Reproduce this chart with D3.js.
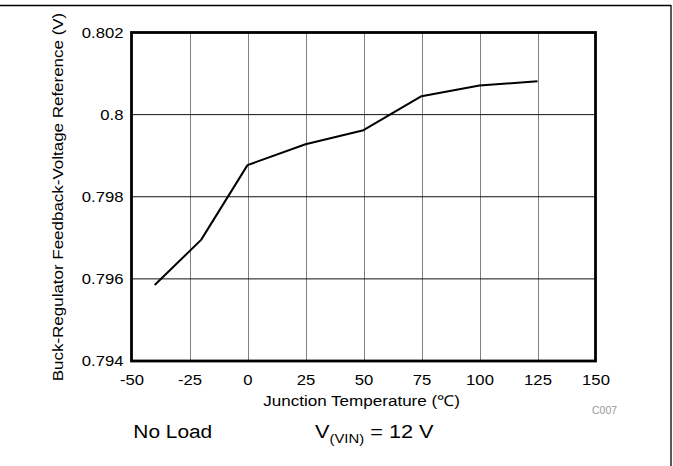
<!DOCTYPE html>
<html>
<head>
<meta charset="utf-8">
<script src="https://cdn.jsdelivr.net/npm/d3@7"></script>
<style>
  html, body { margin: 0; padding: 0; background: #fff; }
  svg { display: block; }
  text { font-family: "Liberation Sans", Arial, Helvetica, sans-serif; fill: #000; }
</style>
</head>
<body>
<svg id="chart" width="673" height="466"></svg>
<script>
// ---- data ----
const temperatures = [-40, -20, 0, 25, 50, 75, 100, 125];
const vref = [0.79585, 0.79695, 0.79877, 0.79928, 0.79962, 0.80045, 0.80071, 0.80081];
const xTicks = [-50, -25, 0, 25, 50, 75, 100, 125, 150];
const xTickLabels = ["-50", "-25", "0", "25", "50", "75", "100", "125", "150"];
const yTicks = [0.794, 0.796, 0.798, 0.800, 0.802];
const yTickLabels = ["0.794", "0.796", "0.798", "0.8", "0.802"];
const xTitle = "Junction Temperature (\u2103)";
const yTitle = "Buck-Regulator Feedback-Voltage Reference (V)";
const note1 = "No Load";
const chartId = "C007";

const svg = d3.select("#chart");
const W = 673, H = 466;
const plot = { left: 131.5, right: 595.5, top: 32.5, bottom: 361 };
const STRETCH = 1.15;

const x = d3.scaleLinear().domain([-50, 150]).range([plot.left, plot.right]);
const y = d3.scaleLinear().domain([0.794, 0.802]).range([plot.bottom, plot.top]);

// outer frame lines
svg.append("line").attr("x1", 0).attr("x2", 671).attr("y1", 5.5).attr("y2", 5.5)
  .attr("stroke", "#000").attr("stroke-width", 1.3);
svg.append("line").attr("x1", 671).attr("x2", 671).attr("y1", 5).attr("y2", H)
  .attr("stroke", "#000").attr("stroke-width", 1.3);

// gridlines
const grid = svg.append("g");
grid.selectAll("line.v").data(xTicks.slice(1, -1)).join("line")
  .attr("x1", d => Math.round(x(d)) + 0.5).attr("x2", d => Math.round(x(d)) + 0.5)
  .attr("y1", plot.top).attr("y2", plot.bottom)
  .attr("stroke", "#808080").attr("stroke-width", 1);
grid.selectAll("line.h").data(yTicks.slice(1, -1)).join("line")
  .attr("x1", plot.left).attr("x2", plot.right)
  .attr("y1", d => y(d)).attr("y2", d => y(d))
  .attr("stroke", "#111").attr("stroke-width", 1);

// axes (labels only)
const xAxis = d3.axisBottom(x).tickValues(xTicks).tickFormat((d, i) => xTickLabels[i]).tickSize(0).tickPadding(14);
const gx = svg.append("g").attr("transform", `translate(0,${plot.bottom})`).call(xAxis);
gx.select(".domain").remove();
gx.selectAll("text").attr("font-size", "14.5px").attr("fill", "#000")
  .attr("font-family", '"Liberation Sans", Arial, sans-serif')
  .attr("transform", `scale(${STRETCH},1)`);

const yAxis = d3.axisLeft(y).tickValues(yTicks).tickFormat((d, i) => yTickLabels[i]).tickSize(0).tickPadding(7);
const gy = svg.append("g").attr("transform", `translate(${plot.left},0)`).call(yAxis);
gy.select(".domain").remove();
gy.selectAll("text").attr("font-size", "14.5px").attr("fill", "#000")
  .attr("font-family", '"Liberation Sans", Arial, sans-serif')
  .attr("transform", `scale(${STRETCH},1)`);

// plot border
svg.append("rect").attr("x", plot.left).attr("y", plot.top)
  .attr("width", plot.right - plot.left).attr("height", plot.bottom - plot.top)
  .attr("fill", "none").attr("stroke", "#000").attr("stroke-width", 2.8);

// data line
const line = d3.line().x((d, i) => x(temperatures[i])).y(d => y(d));
svg.append("path").datum(vref).attr("d", line)
  .attr("fill", "none").attr("stroke", "#000").attr("stroke-width", 2)
  .attr("stroke-linejoin", "round");

// helper for stretched text
function stretched(px, py, size, anchor, target, rotate, build) {
  const g = svg.append("g").attr("transform", `translate(${px},${py})`);
  const t = g.append("text").attr("font-size", size + "px").attr("text-anchor", anchor);
  build(t);
  const w = t.node().getBBox().width;
  const s = target / w;
  g.attr("transform", `translate(${px},${py})${rotate ? " rotate(-90)" : ""} scale(${s},1)`);
  return t;
}

// axis titles
stretched((263 + 460) / 2, 405.7, 15, "middle", 197, false, t => t.text(xTitle));
stretched(62.5, 197, 14.5, "middle", 369, true, t => t.text(yTitle));

// chart id
svg.append("text").attr("x", 592).attr("y", 414).attr("font-size", "10.5px")
  .style("fill", "#999").text(chartId);

// notes
stretched(133.3, 437.7, 19, "start", 79, false, t => t.text(note1));
stretched(315, 437.7, 19, "start", 119, false, t => {
  t.append("tspan").text("V");
  t.append("tspan").attr("font-size", "13px").attr("dy", 5).text("(VIN)");
  t.append("tspan").attr("dy", -5).text(" = 12 V");
});
</script>
</body>
</html>
